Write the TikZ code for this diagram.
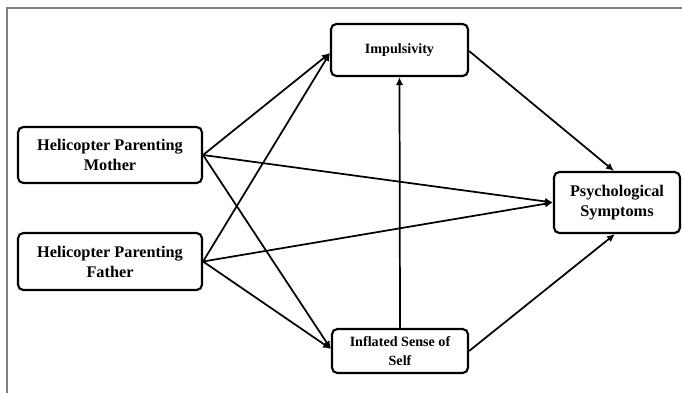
\documentclass[tikz,border=0pt]{standalone}
\usepackage{fontspec}
\setmainfont{Liberation Serif}
\usetikzlibrary{arrows.meta}
\begin{document}
\begin{tikzpicture}[x=0.75pt,y=-0.75pt,
  box/.style={draw=black, line width=1.6pt, rounded corners=4pt, align=center, inner sep=0pt, font=\bfseries},
  big/.style={font=\fontsize{12.2}{15}\selectfont\bfseries},
  small/.style={font=\fontsize{10.6}{14}\selectfont\bfseries},
  arr/.style={line width=1.3pt, -{Latex[length=6pt,width=5.5pt]}},
  frame/.style={draw=black!50, line width=0.8pt}]
\useasboundingbox (0,0) rectangle (682,393);
\coordinate (fbl) at (7,393);
\coordinate (ftl) at (7,8);
\coordinate (ftr) at (682,8);
\draw[frame] (fbl) -- (ftl) -- (ftr);

\node[box, big, minimum width=138pt, minimum height=42pt] (M) at (110,155) {Helicopter Parenting\\Mother};
\node[box, big, minimum width=138pt, minimum height=42.75pt] (F) at (110,261.5) {Helicopter Parenting\\Father};
\node[box, small, minimum width=102.75pt, minimum height=39pt] (I) at (399.5,50) {Impulsivity};
\node[box, small, minimum width=102pt, minimum height=33pt] (S) at (400,351) {Inflated Sense of\\Self};
\node[box, big, minimum width=94.5pt, minimum height=45.75pt] (P) at (617,202.5) {Psychological\\Symptoms};

\draw[arr] (M.east) -- ([yshift=-2.25pt]I.west);
\draw[arr] (F.east) -- ([yshift=-2.25pt]I.west);
\draw[arr] (M.east) -- ([yshift=1.5pt]S.west);
\draw[arr] (F.east) -- ([yshift=1.5pt]S.west);
\draw[arr] (M.east) -- (P.west);
\draw[arr] (F.east) -- (P.west);
\draw[arr] (S.north) -- (I.south);
\draw[arr] ([yshift=-0.75pt]I.east) -- ([xshift=-2.25pt]P.north);
\draw[arr] (S.east) -- ([xshift=-1.5pt]P.south);
\end{tikzpicture}
\end{document}
